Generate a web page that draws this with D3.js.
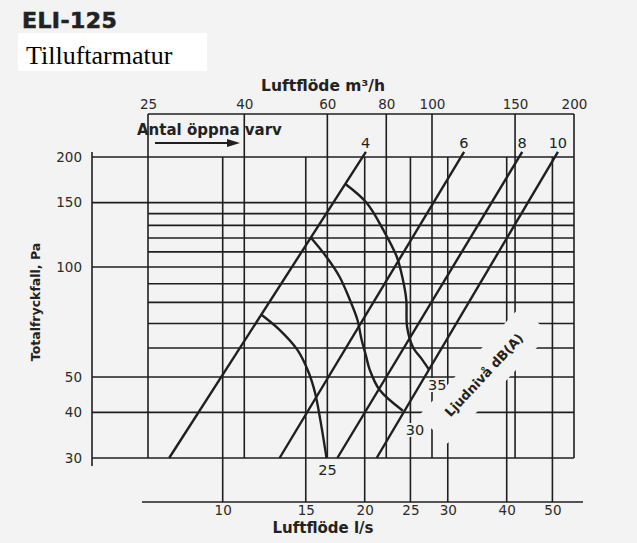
<!DOCTYPE html>
<html>
<head>
<meta charset="utf-8">
<script src="https://cdn.jsdelivr.net/npm/d3@7"></script>
<style>
body { margin: 0; background: #f3f3f3; }
svg { display: block; font-family: "DejaVu Sans", "Liberation Sans", Arial, sans-serif; }
</style>
</head>
<body>
<svg id="chart" width="637" height="543"></svg>
<script>
// axis ticks
var lsTicks = [10, 15, 20, 25, 30, 40, 50];          // Luftflöde l/s
var m3hTicks = [25, 40, 60, 80, 100, 150, 200];      // Luftflöde m3/h
var paTicks = [30, 40, 50, 100, 150, 200];           // Totaltryckfall, Pa
var paGrid = [60, 70, 80, 90, 110, 120, 130, 140];   // extra grid lines

// Antal öppna varv: flow (l/s) where each line meets 30 Pa and 200 Pa
var turns = [4, 6, 8, 10];
var flowAt30Pa = [7.7, 13.2, 17.5, 21.2];
var flowAt200Pa = [19.8, 32.0, 42.5, 50.6];

// Ljudnivå dB(A) curves, [l/s, Pa]
var soundLevels = [25, 30, 35];
var sound25 = [[12.1, 73.9], [13.2, 67.3], [14.4, 59.3], [15.2, 51.6], [15.7, 45.2], [16.1, 38.2], [16.6, 30]];
var sound30 = [[15.4, 120], [16.6, 106.5], [17.7, 93.9], [18.6, 81.3], [19.3, 71.7], [19.7, 63.2],
               [20.1, 57.5], [20.5, 52.3], [21.5, 46.1], [24.1, 40.4]];
var sound35 = [[18.2, 168.7], [20.2, 149.7], [21.9, 126.3], [23.4, 106.5], [24.1, 92.2], [24.5, 81.3],
               [24.6, 68.5], [25.3, 60.4], [26.5, 55.7], [27.4, 52.3]];

var bg = "#f3f3f3", ink = "#1f1f1f", txt = "#222";
var svg = d3.select("#chart");

var x = d3.scaleLog().domain([25 / 3.6, 200 / 3.6]).range([148, 574]);
var xm = d3.scaleLog().domain([25, 200]).range([148, 574]);
var y = d3.scaleLog().domain([30, 200]).range([458, 157]);
var topY = 114, botY = 502, axisX = 92;

svg.append("rect").attr("width", 637).attr("height", 543).attr("fill", bg);

// heading
svg.append("text").attr("x", 22).attr("y", 28)
	.attr("font-weight", 900).attr("font-size", 22).attr("letter-spacing", 0.4)
	.attr("fill", "#222").attr("stroke", "#222").attr("stroke-width", 0.6)
	.text("ELI-125");
svg.append("rect").attr("x", 18).attr("y", 33).attr("width", 189).attr("height", 38).attr("fill", "#fff");
svg.append("text").attr("x", 26).attr("y", 64)
	.attr("font-family", "Liberation Serif, Times New Roman, serif")
	.attr("font-size", 26).attr("fill", "#000")
	.text("Tilluftarmatur");

var grid = svg.append("g").attr("stroke", ink).attr("stroke-width", 1.6).attr("fill", "none");

// horizontal lines
grid.selectAll("line.pg").data(paGrid).enter().append("line")
	.attr("x1", x.range()[0]).attr("x2", x.range()[1])
	.attr("y1", function (d) { return y(d); }).attr("y2", function (d) { return y(d); });
grid.selectAll("line.pt").data(paTicks).enter().append("line")
	.attr("x1", axisX).attr("x2", x.range()[1])
	.attr("y1", function (d) { return y(d); }).attr("y2", function (d) { return y(d); });

// m3/h verticals: top axis down to 30 Pa
grid.selectAll("line.mv").data(m3hTicks).enter().append("line")
	.attr("x1", function (d) { return xm(d); }).attr("x2", function (d) { return xm(d); })
	.attr("y1", topY).attr("y2", y(30));
// l/s verticals: 200 Pa down to bottom axis
grid.selectAll("line.lv").data(lsTicks).enter().append("line")
	.attr("x1", function (d) { return x(d); }).attr("x2", function (d) { return x(d); })
	.attr("y1", y(200)).attr("y2", botY);

// axis lines
grid.append("line").attr("x1", axisX).attr("x2", axisX).attr("y1", 152).attr("y2", 466);
grid.append("line").attr("x1", xm(25)).attr("x2", xm(200)).attr("y1", topY).attr("y2", topY);
grid.append("line").attr("x1", 142).attr("x2", 583).attr("y1", botY).attr("y2", botY);

// mask behind the Ljudnivå label
var lblX = 484, lblY = 375, lblAng = -47;
svg.append("rect").attr("x", -75).attr("y", -20).attr("width", 150).attr("height", 40)
	.attr("fill", bg)
	.attr("transform", "translate(" + lblX + "," + lblY + ") rotate(" + lblAng + ")");

// tick labels
function styleAxis(g) {
	g.attr("font-size", 13.5).attr("font-family", null).style("color", "#2a2a2a");
	g.select(".domain").remove();
}
svg.append("g").attr("transform", "translate(0," + botY + ")")
	.call(d3.axisBottom(x).tickValues(lsTicks).tickFormat(d3.format("d")).tickSize(0).tickPadding(3))
	.call(styleAxis);
svg.append("g").attr("transform", "translate(0," + topY + ")")
	.call(d3.axisTop(xm).tickValues(m3hTicks).tickFormat(d3.format("d")).tickSize(0).tickPadding(5))
	.call(styleAxis);
svg.append("g").attr("transform", "translate(" + axisX + ",0)")
	.call(d3.axisLeft(y).tickValues(paTicks).tickFormat(d3.format("d")).tickSize(0).tickPadding(10))
	.call(styleAxis);

// axis titles
svg.append("text").attr("x", 323).attr("y", 91).attr("text-anchor", "middle")
	.attr("font-weight", "bold").attr("font-size", 15.5).attr("fill", txt)
	.text("Luftflöde m³/h");
svg.append("text").attr("x", 323).attr("y", 533).attr("text-anchor", "middle")
	.attr("font-weight", "bold").attr("font-size", 15).attr("fill", txt)
	.text("Luftflöde l/s");
svg.append("text").attr("transform", "translate(40,302) rotate(-90)").attr("text-anchor", "middle")
	.attr("font-weight", "bold").attr("font-size", 12.5).attr("fill", txt)
	.text("Totalfryckfall, Pa");

// Antal öppna varv + arrow
svg.append("text").attr("x", 137).attr("y", 135)
	.attr("font-weight", "bold").attr("font-size", 15).attr("fill", txt)
	.text("Antal öppna varv");
svg.append("line").attr("x1", 155).attr("x2", 230).attr("y1", 143).attr("y2", 143)
	.attr("stroke", ink).attr("stroke-width", 1.8);
svg.append("path").attr("d", "M227,139L240,143L227,147Z").attr("fill", ink);

// turn lines
var lines = svg.append("g").attr("stroke", ink).attr("stroke-width", 2.4).attr("fill", "none");
turns.forEach(function (t, i) {
	var x0 = x(flowAt30Pa[i]), y0 = y(30), x1 = x(flowAt200Pa[i]), y1 = y(200);
	var len = Math.hypot(x1 - x0, y1 - y0), ext = 6;
	lines.append("line").attr("x1", x0).attr("y1", y0)
		.attr("x2", x1 + (x1 - x0) / len * ext).attr("y2", y1 + (y1 - y0) / len * ext);
	svg.append("text").attr("x", x1 + 3).attr("y", 148).attr("text-anchor", "middle")
		.attr("font-size", 14.5).attr("fill", txt).text(t);
});

// sound level curves
var curve = d3.line()
	.x(function (d) { return x(d[0]); })
	.y(function (d) { return y(d[1]); })
	.curve(d3.curveCatmullRom.alpha(0.5));
var curves = [sound25, sound30, sound35];
var lblOff = [[1, 17], [12, 24], [8, 20]];
curves.forEach(function (c, i) {
	lines.append("path").attr("d", curve(c));
	var end = c[c.length - 1];
	svg.append("text")
		.attr("x", x(end[0]) + lblOff[i][0]).attr("y", y(end[1]) + lblOff[i][1])
		.attr("text-anchor", "middle").attr("font-size", 14.5).attr("fill", txt)
		.attr("stroke", bg).attr("stroke-width", 4).attr("paint-order", "stroke")
		.text(soundLevels[i]);
});

svg.append("text")
	.attr("transform", "translate(" + lblX + "," + lblY + ") rotate(" + lblAng + ")")
	.attr("text-anchor", "middle").attr("dy", "0.35em")
	.attr("font-weight", "bold").attr("font-size", 13).attr("fill", txt)
	.text("Ljudnivå dB(A)");
</script>
</body>
</html>
